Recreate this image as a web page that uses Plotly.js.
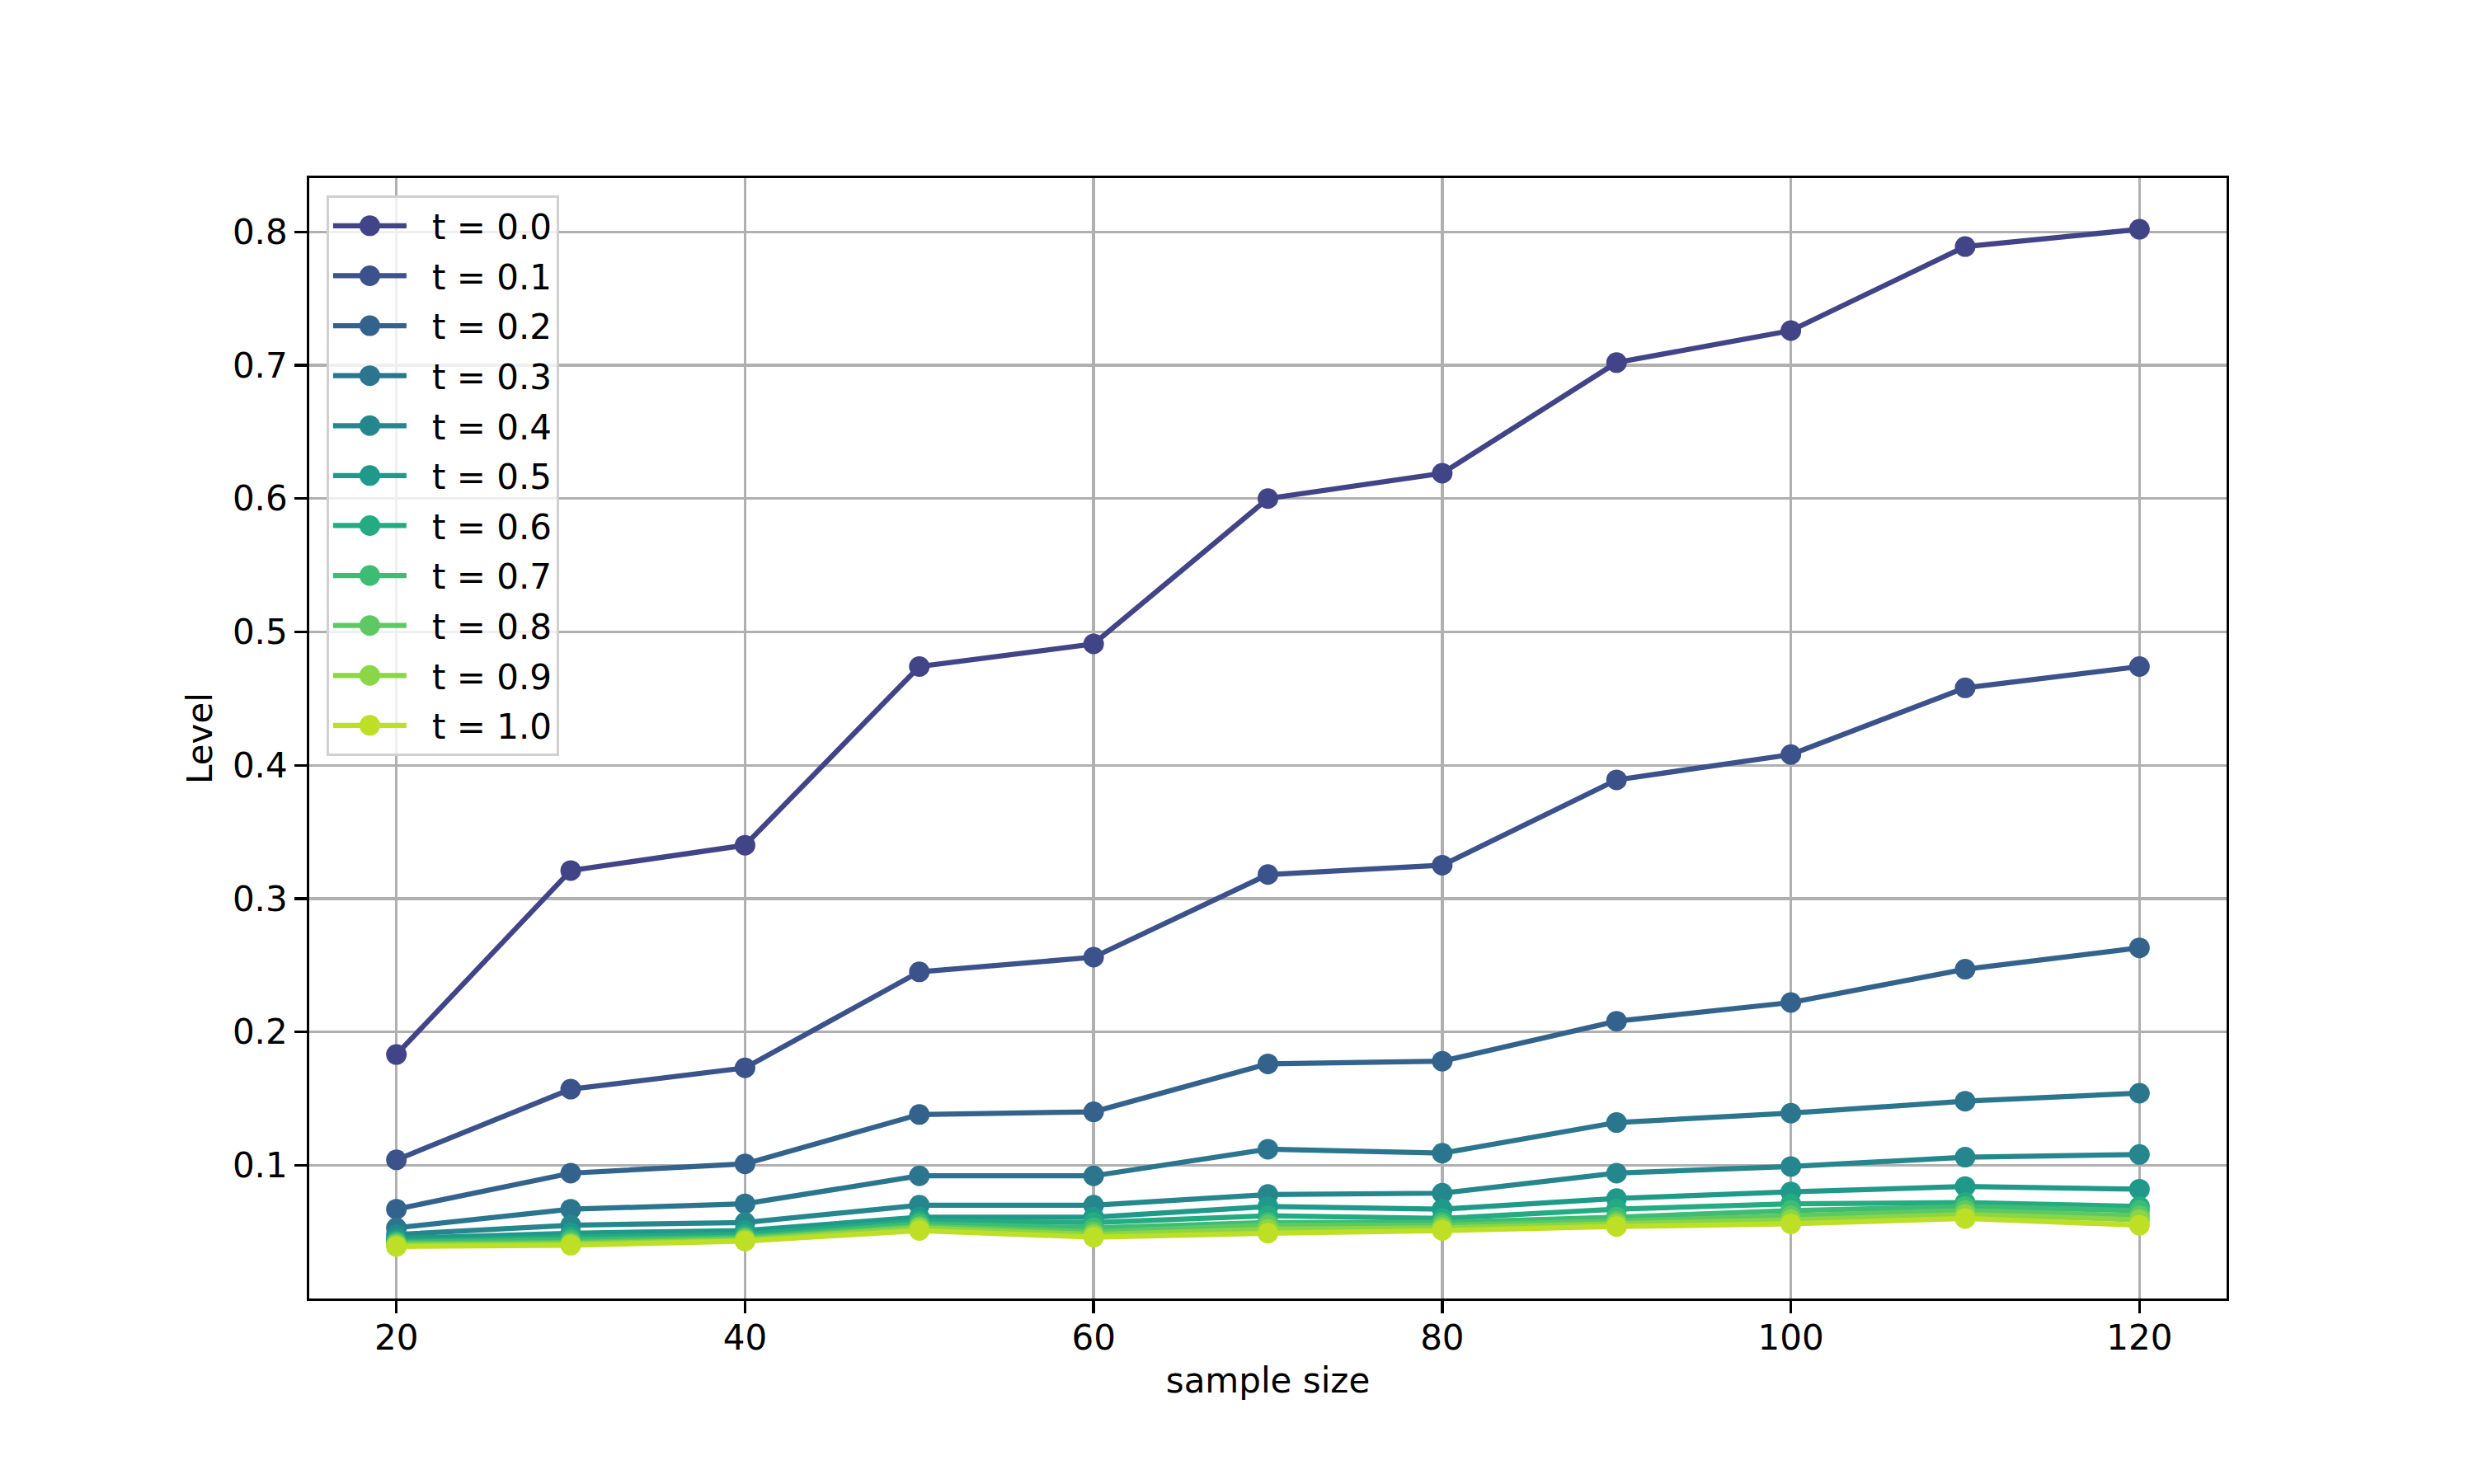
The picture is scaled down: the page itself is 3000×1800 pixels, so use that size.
<!DOCTYPE html>
<html>
<head>
<meta charset="utf-8">
<script src="https://cdn.plot.ly/plotly-3.0.1.min.js"></script>
<style>
  html, body { margin: 0; padding: 0; background: #fff; }
  #chart { width: 3000px; height: 1800px; }
</style>
</head>
<body>
<div id="chart"></div>
<script>
// sample sizes on the x axis
var sizes = [20, 30, 40, 50, 60, 70, 80, 90, 100, 110, 120];

// one level curve per t
var level00 = [0.183, 0.321, 0.340, 0.474, 0.491, 0.600, 0.619, 0.702, 0.726, 0.789, 0.802];
var level01 = [0.104, 0.157, 0.173, 0.245, 0.256, 0.318, 0.325, 0.389, 0.408, 0.458, 0.474];
var level02 = [0.067, 0.094, 0.101, 0.138, 0.140, 0.176, 0.178, 0.208, 0.222, 0.247, 0.263];
var level03 = [0.053, 0.067, 0.071, 0.092, 0.092, 0.112, 0.109, 0.132, 0.139, 0.148, 0.154];
var level04 = [0.048, 0.055, 0.057, 0.070, 0.070, 0.078, 0.079, 0.094, 0.099, 0.106, 0.108];
var level05 = [0.045, 0.049, 0.051, 0.061, 0.061, 0.069, 0.067, 0.075, 0.080, 0.084, 0.082];
var level06 = [0.043, 0.046, 0.048, 0.058, 0.057, 0.062, 0.060, 0.067, 0.071, 0.072, 0.069];
var level07 = [0.042, 0.044, 0.046, 0.056, 0.053, 0.057, 0.057, 0.061, 0.066, 0.069, 0.066];
var level08 = [0.041, 0.042, 0.045, 0.054, 0.050, 0.055, 0.055, 0.058, 0.062, 0.066, 0.062];
var level09 = [0.040, 0.041, 0.044, 0.053, 0.048, 0.052, 0.053, 0.056, 0.059, 0.063, 0.059];
var level10 = [0.039, 0.040, 0.043, 0.051, 0.046, 0.049, 0.051, 0.054, 0.056, 0.060, 0.055];

var levels = [level00, level01, level02, level03, level04, level05,
              level06, level07, level08, level09, level10];

var labels = ['t = 0.0', 't = 0.1', 't = 0.2', 't = 0.3', 't = 0.4', 't = 0.5',
              't = 0.6', 't = 0.7', 't = 0.8', 't = 0.9', 't = 1.0'];

var xTicks = [20, 40, 60, 80, 100, 120];
var yTicks = [0.1, 0.2, 0.3, 0.4, 0.5, 0.6, 0.7, 0.8];

// viridis, sampled from 0.2 to 0.9
var colors = ['#414487', '#3b528b', '#33638d', '#2b758e', '#25868e', '#1f9a8a',
              '#25ab82', '#3dbc74', '#5ec962', '#8bd646', '#bddf26'];

var font = 'DejaVu Sans, sans-serif';

var data = [];
for (var i = 0; i < levels.length; i++) {
  data.push({
    x: sizes,
    y: levels[i],
    type: 'scatter',
    mode: 'lines+markers',
    name: labels[i],
    legendgroup: 'g' + i,
    line: { color: colors[i], width: 6.25 },
    marker: { color: colors[i], size: 25 }
  });
}

var layout = {
  width: 3000,
  height: 1800,
  paper_bgcolor: '#ffffff',
  plot_bgcolor: '#ffffff',
  margin: { l: 375, r: 300, t: 216, b: 225, pad: 0 },
  font: { family: font, size: 42, color: '#000000' },
  showlegend: true,
  legend: {
    x: 0.009,
    y: 0.9845,
    xanchor: 'left',
    yanchor: 'top',
    bgcolor: 'rgba(255,255,255,0.8)',
    bordercolor: '#d0d0d0',
    borderwidth: 3,
    itemwidth: 115,
    tracegroupgap: 3,
    font: { family: font, size: 42, color: '#000000' }
  },
  xaxis: {
    range: [15, 125],
    tickvals: xTicks,
    ticktext: xTicks.map(String),
    showgrid: true,
    gridcolor: '#b0b0b0',
    gridwidth: 3.3,
    zeroline: false,
    showline: true,
    mirror: true,
    linecolor: '#000000',
    linewidth: 3.3,
    ticks: 'outside',
    ticklen: 14.6,
    tickwidth: 3.3,
    tickcolor: '#000000',
    ticklabelstandoff: -6,
    tickfont: { family: font, size: 42, color: '#000000' },
    title: { text: 'sample size', font: { family: font, size: 42, color: '#000000' }, standoff: 14 }
  },
  yaxis: {
    range: [0, 0.8404],
    tickvals: yTicks,
    ticktext: yTicks.map(function (v) { return v.toFixed(1); }),
    showgrid: true,
    gridcolor: '#b0b0b0',
    gridwidth: 3.3,
    zeroline: false,
    showline: true,
    mirror: true,
    linecolor: '#000000',
    linewidth: 3.3,
    ticks: 'outside',
    ticklen: 14.6,
    tickwidth: 3.3,
    tickcolor: '#000000',
    tickfont: { family: font, size: 42, color: '#000000' },
    title: { text: 'Level', font: { family: font, size: 42, color: '#000000' }, standoff: 12 }
  }
};

Plotly.newPlot('chart', data, layout, { displayModeBar: false, staticPlot: true }).then(function (gd) {
  // longer legend handles with full-size markers, like the matplotlib legend
  var groups = gd.querySelectorAll('.legend .traces');
  groups.forEach(function (g) {
    var line = g.querySelector('.legendlines path');
    if (line) line.setAttribute('d', 'M5,0h89');
    g.querySelectorAll('.legendpoints path').forEach(function (p) {
      p.setAttribute('transform', 'translate(49.5,0) scale(1.5625)');
    });
  });
});
</script>
</body>
</html>
